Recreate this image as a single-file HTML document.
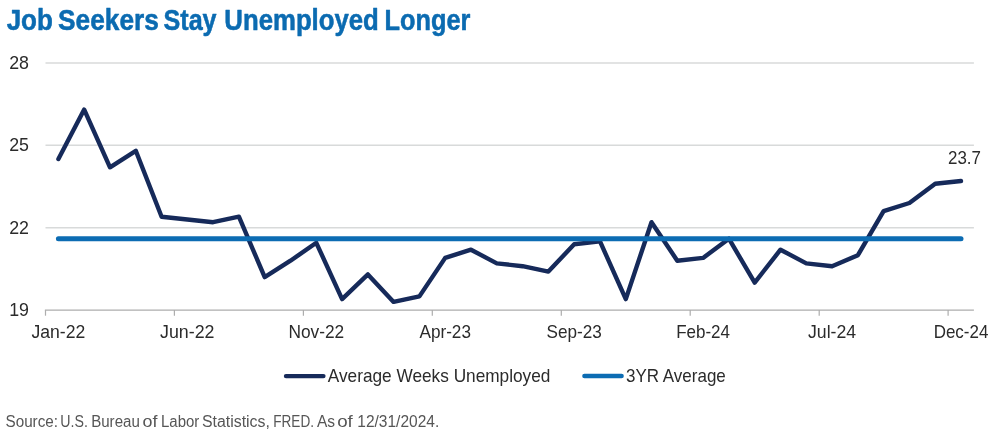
<!DOCTYPE html>
<html><head><meta charset="utf-8"><title>Job Seekers Stay Unemployed Longer</title>
<style>
html,body{margin:0;padding:0;background:#fff;}
svg{display:block;font-family:"Liberation Sans",sans-serif;}
.ax text{font-size:18.5px;fill:#2b2b2b;}
</style></head><body>
<svg width="994" height="436" viewBox="0 0 994 436">
<rect width="994" height="436" fill="#fff"/>
<text y="30.0" font-size="29.3px" font-weight="bold" fill="#0b6bb1" stroke="#0b6bb1" stroke-width="0.55" stroke-linejoin="round"><tspan x="6.65" textLength="46.24" lengthAdjust="spacingAndGlyphs">Job</tspan> <tspan x="58.10" textLength="100.69" lengthAdjust="spacingAndGlyphs">Seekers</tspan> <tspan x="163.54" textLength="53.05" lengthAdjust="spacingAndGlyphs">Stay</tspan> <tspan x="224.36" textLength="154.49" lengthAdjust="spacingAndGlyphs">Unemployed</tspan> <tspan x="384.61" textLength="85.80" lengthAdjust="spacingAndGlyphs">Longer</tspan></text>
<g stroke="#d8dada" stroke-width="1.5"><line x1="45.5" x2="973.9" y1="227.7" y2="227.7"/><line x1="45.5" x2="973.9" y1="145.3" y2="145.3"/><line x1="45.5" x2="973.9" y1="62.9" y2="62.9"/></g>
<g stroke="#adadad" stroke-width="1.2"><line x1="44.9" x2="973.9" y1="310.1" y2="310.1"/><line x1="45.5" x2="45.5" y1="310.1" y2="315.70000000000005"/><line x1="174.4" x2="174.4" y1="310.1" y2="315.70000000000005"/><line x1="303.4" x2="303.4" y1="310.1" y2="315.70000000000005"/><line x1="432.3" x2="432.3" y1="310.1" y2="315.70000000000005"/><line x1="561.3" x2="561.3" y1="310.1" y2="315.70000000000005"/><line x1="690.2" x2="690.2" y1="310.1" y2="315.70000000000005"/><line x1="819.2" x2="819.2" y1="310.1" y2="315.70000000000005"/><line x1="948.1" x2="948.1" y1="310.1" y2="315.70000000000005"/></g>
<g class="ax"><text x="29.0" y="316.2" text-anchor="end" textLength="19.8" lengthAdjust="spacingAndGlyphs">19</text><text x="29.0" y="233.8" text-anchor="end" textLength="19.8" lengthAdjust="spacingAndGlyphs">22</text><text x="29.0" y="151.4" text-anchor="end" textLength="19.8" lengthAdjust="spacingAndGlyphs">25</text><text x="29.0" y="69.0" text-anchor="end" textLength="19.8" lengthAdjust="spacingAndGlyphs">28</text><text x="58.4" y="338.0" text-anchor="middle" textLength="53.8" lengthAdjust="spacingAndGlyphs">Jan-22</text><text x="187.3" y="338.0" text-anchor="middle" textLength="54.5" lengthAdjust="spacingAndGlyphs">Jun-22</text><text x="316.3" y="338.0" text-anchor="middle" textLength="55.8" lengthAdjust="spacingAndGlyphs">Nov-22</text><text x="445.2" y="338.0" text-anchor="middle" textLength="51.5" lengthAdjust="spacingAndGlyphs">Apr-23</text><text x="574.2" y="338.0" text-anchor="middle" textLength="55.3" lengthAdjust="spacingAndGlyphs">Sep-23</text><text x="703.1" y="338.0" text-anchor="middle" textLength="53.8" lengthAdjust="spacingAndGlyphs">Feb-24</text><text x="832.1" y="338.0" text-anchor="middle" textLength="48.2" lengthAdjust="spacingAndGlyphs">Jul-24</text><text x="961.0" y="338.0" text-anchor="middle" textLength="54.7" lengthAdjust="spacingAndGlyphs">Dec-24</text>
<text x="948.0" y="164" textLength="33.0" lengthAdjust="spacingAndGlyphs">23.7</text>
<text x="327.8" y="382" textLength="222.6" lengthAdjust="spacingAndGlyphs">Average Weeks Unemployed</text>
<text x="626.0" y="382" textLength="99.8" lengthAdjust="spacingAndGlyphs">3YR Average</text>
</g>
<polyline points="58.4,159.0 84.2,109.6 110.0,167.3 135.8,150.8 161.6,216.7 187.3,219.5 213.1,222.2 238.9,216.7 264.7,277.1 290.5,260.7 316.3,242.8 342.1,299.1 367.9,274.4 393.6,301.9 419.4,296.4 445.2,257.9 471.0,249.7 496.8,263.4 522.6,266.2 548.4,271.6 574.2,244.2 600.0,241.4 625.8,299.1 651.5,222.2 677.3,260.7 703.1,257.9 728.9,238.7 754.7,282.6 780.5,249.7 806.3,263.4 832.1,266.2 857.9,255.2 883.6,211.2 909.4,203.0 935.2,183.8 961.0,181.0" fill="none" stroke="#162a5a" stroke-width="4.4" stroke-linejoin="round" stroke-linecap="round"/>
<line x1="58.4" x2="961.0" y1="238.7" y2="238.7" stroke="#0c6cb3" stroke-width="5" stroke-linecap="round"/>
<line x1="286" x2="323.4" y1="376.1" y2="376.1" stroke="#162a5a" stroke-width="4.4" stroke-linecap="round"/>
<line x1="584.4" x2="621.6" y1="376" y2="376" stroke="#0c6cb3" stroke-width="4.4" stroke-linecap="round"/>
<text y="426.7" font-size="16px" fill="#565656"><tspan x="5.5" textLength="52.5" lengthAdjust="spacingAndGlyphs">Source:</tspan> <tspan x="60.3" textLength="27.6" lengthAdjust="spacingAndGlyphs">U.S.</tspan> <tspan x="91.2" textLength="48.6" lengthAdjust="spacingAndGlyphs">Bureau</tspan> <tspan x="142.6" textLength="14.9" lengthAdjust="spacingAndGlyphs">of</tspan> <tspan x="161.0" textLength="38.3" lengthAdjust="spacingAndGlyphs">Labor</tspan> <tspan x="202.0" textLength="67.9" lengthAdjust="spacingAndGlyphs">Statistics,</tspan> <tspan x="273.2" textLength="40.8" lengthAdjust="spacingAndGlyphs">FRED.</tspan> <tspan x="317.0" textLength="18.1" lengthAdjust="spacingAndGlyphs">As</tspan> <tspan x="337.2" textLength="15.6" lengthAdjust="spacingAndGlyphs">of</tspan> <tspan x="357.3" textLength="81.9" lengthAdjust="spacingAndGlyphs">12/31/2024.</tspan></text>
</svg>
</body></html>
